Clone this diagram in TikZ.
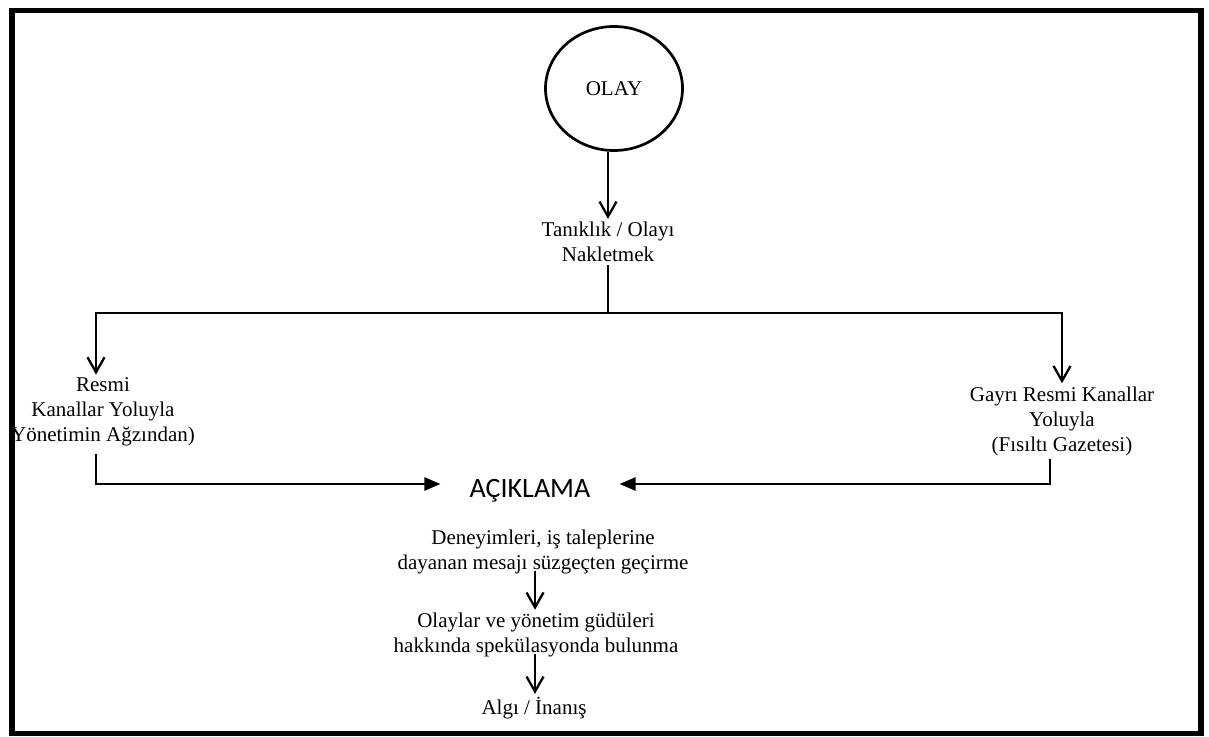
\documentclass[tikz,border=0pt]{standalone}
\usepackage{fontspec}
\setmainfont{Liberation Serif}
\newfontfamily\headfont{Carlito}
\usetikzlibrary{arrows.meta,shapes.geometric}
\begin{document}
\begin{tikzpicture}[x=1pt,y=-1pt,
  txt/.style={align=center,inner sep=3pt,font=\fontsize{21}{25}\selectfont},
  link/.style={line width=2.3pt},
  down/.style={link,-{Straight Barb[length=15pt,width=17pt]}},
  side/.style={link,-{Triangle[length=16pt,width=13pt]}},
]
\useasboundingbox (0,0) rectangle (1209,736);
\fill[white] (0,0) rectangle (1209,736);

% event and its report
\node[ellipse,draw,line width=2.7pt,minimum width=137pt,minimum height=124pt,
      txt] (olay) at (614,88.5) {OLAY};
\node[txt] (tanik) at (608,242) {Tanıklık / Olayı\\Nakletmek};

% the two channels
\node[txt] (resmi) at (103,412) {Resmi\\Kanallar Yoluyla\\Yönetimin Ağzından)};
\node[txt] (gayri) at (1062,421) {Gayrı Resmi Kanallar\\Yoluyla\\(Fısıltı Gazetesi)};

% explanation and its processing
\node[font=\headfont\fontsize{28}{30}\selectfont,inner ysep=2pt,inner xsep=29pt]
      (acik) at (530,491) {AÇIKLAMA};
\node[txt] (deney) at (543,552) {Deneyimleri, iş taleplerine\\dayanan mesajı süzgeçten geçirme};
\node[txt] (olaylar) at (536,635) {Olaylar ve yönetim güdüleri\\hakkında spekülasyonda bulunma};
\node[txt] (algi) at (534,708) {Algı / İnanış};

\coordinate (split) at (608,313);
\coordinate (lbend) at (96,313);
\coordinate (rbend) at (1062,313);
\coordinate (meet) at (530,484);
\coordinate (flow) at (535,0);

% connectors
\draw[down] (olay.south -| tanik) -- (tanik.north);
\draw[link] (tanik.south) -- (split);
\draw[down] (split) -- (lbend) -- (lbend |- resmi.north);
\draw[down] (split) -- (rbend) -- (rbend |- gayri.north);
\draw[side] (resmi.south -| lbend) ++(0,5) |- (acik.west |- meet);
\draw[side] ([xshift=-12pt]gayri.south) |- (acik.east |- meet);
\draw[down,shorten <=-6pt] (deney.south -| flow) -- (olaylar.north -| flow);
\draw[down,shorten <=-6pt] (olaylar.south -| flow) -- (algi.north -| flow);

% outer frame
\draw[line width=5.5pt] (12,10.5) rectangle (1201,733.5);
\end{tikzpicture}
\end{document}
